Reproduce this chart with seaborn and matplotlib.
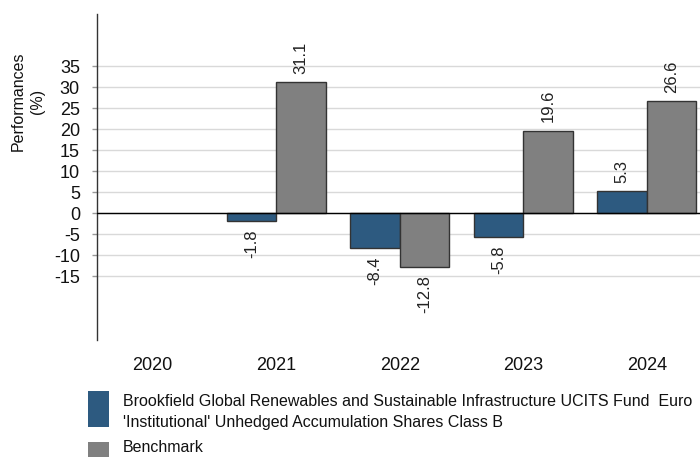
import numpy as np
import pandas as pd
import matplotlib
matplotlib.use("Agg")
import matplotlib.pyplot as plt
import seaborn as sns
from matplotlib.patches import Rectangle
from matplotlib.legend_handler import HandlerPatch

years = ["2020", "2021", "2022", "2023", "2024"]
fund_values = [np.nan, -1.8, -8.4, -5.8, 5.3]
bench_values = [np.nan, 31.1, -12.8, 19.6, 26.6]
fund_name = ("Brookfield Global Renewables and Sustainable Infrastructure UCITS Fund  Euro\n"
             "'Institutional' Unhedged Accumulation Shares Class B")
bench_name = "Benchmark"
yticks = [-15, -10, -5, 0, 5, 10, 15, 20, 25, 30, 35]

sns.set_theme(style="white")
plt.rcParams["font.family"] = ["Liberation Sans", "DejaVu Sans"]

df = pd.DataFrame({
    "year": years * 2,
    "value": fund_values + bench_values,
    "series": [fund_name] * len(years) + [bench_name] * len(years),
}).dropna()

fig = plt.figure(figsize=(7, 4.57), dpi=100)
ax = fig.add_axes([97 / 700, 1 - 340 / 457, 1 - 97 / 700, (340 - 14) / 457])

colors = {fund_name: "#2d5a80", bench_name: "#808080"}
sns.barplot(data=df, x="year", y="value", hue="series", order=years,
            hue_order=[fund_name, bench_name], palette=colors, saturation=1,
            edgecolor="#333333", linewidth=1, width=0.8, ax=ax, legend=False,
            zorder=3)

for cont in ax.containers:
    ax.bar_label(cont, fmt="%.1f", rotation=90, padding=6, fontsize=12, color="#222222")

ax.set_ylim(-30.2, 47.4)
ax.set_xlim(-0.45, 4.43)
ax.set_yticks(yticks)
ax.set_yticklabels([str(t) for t in yticks], fontsize=13)
ax.grid(axis="y", color="#d9d9d9", linewidth=1, zorder=0)
ax.set_axisbelow(True)
ax.axhline(0, color="black", linewidth=1, zorder=4)

for s in ["top", "right", "bottom"]:
    ax.spines[s].set_visible(False)
ax.spines["left"].set_color("#333333")
ax.spines["left"].set_linewidth(1)
ax.tick_params(axis="y", left=True, length=3.6, width=1, color="#999999", pad=8.7, labelcolor="#111111")
ax.tick_params(axis="x", bottom=False, length=0, pad=12.2, labelsize=13, labelcolor="#111111")
ax.set_xlabel("")
ax.set_ylabel("Performances\n(%)", fontsize=11.5, color="#111111", linespacing=1.3)
ax.yaxis.set_label_coords(-0.087, 0.733)


class TallPatch(HandlerPatch):
    def __init__(self, y0, h, **kw):
        super().__init__(**kw)
        self.y0 = y0
        self.h = h

    def create_artists(self, legend, orig_handle, xdescent, ydescent, width, height, fontsize, trans):
        r = Rectangle((-xdescent, self.y0 * fontsize), width, self.h * fontsize,
                      facecolor=orig_handle.get_facecolor(), edgecolor="none", transform=trans)
        return [r]


h_fund = Rectangle((0, 0), 1, 1, facecolor=colors[fund_name])
h_bench = Rectangle((0, 0), 1, 1, facecolor=colors[bench_name])
leg = fig.legend([h_fund, h_bench], [fund_name, bench_name], loc="upper left",
                 bbox_to_anchor=(88 / 700, 1 - 394 / 457), frameon=False, fontsize=11.5,
                 handlelength=1.31, handletextpad=0.875, labelspacing=0.62, borderpad=0,
                 borderaxespad=0,
                 handler_map={h_fund: TallPatch(-0.6, 2.3), h_bench: TallPatch(-1.3, 1.9)})
for t in leg.get_texts():
    t.set_linespacing(1.48)
    t.set_color("#111111")

fig.savefig("out.png", dpi=100)
